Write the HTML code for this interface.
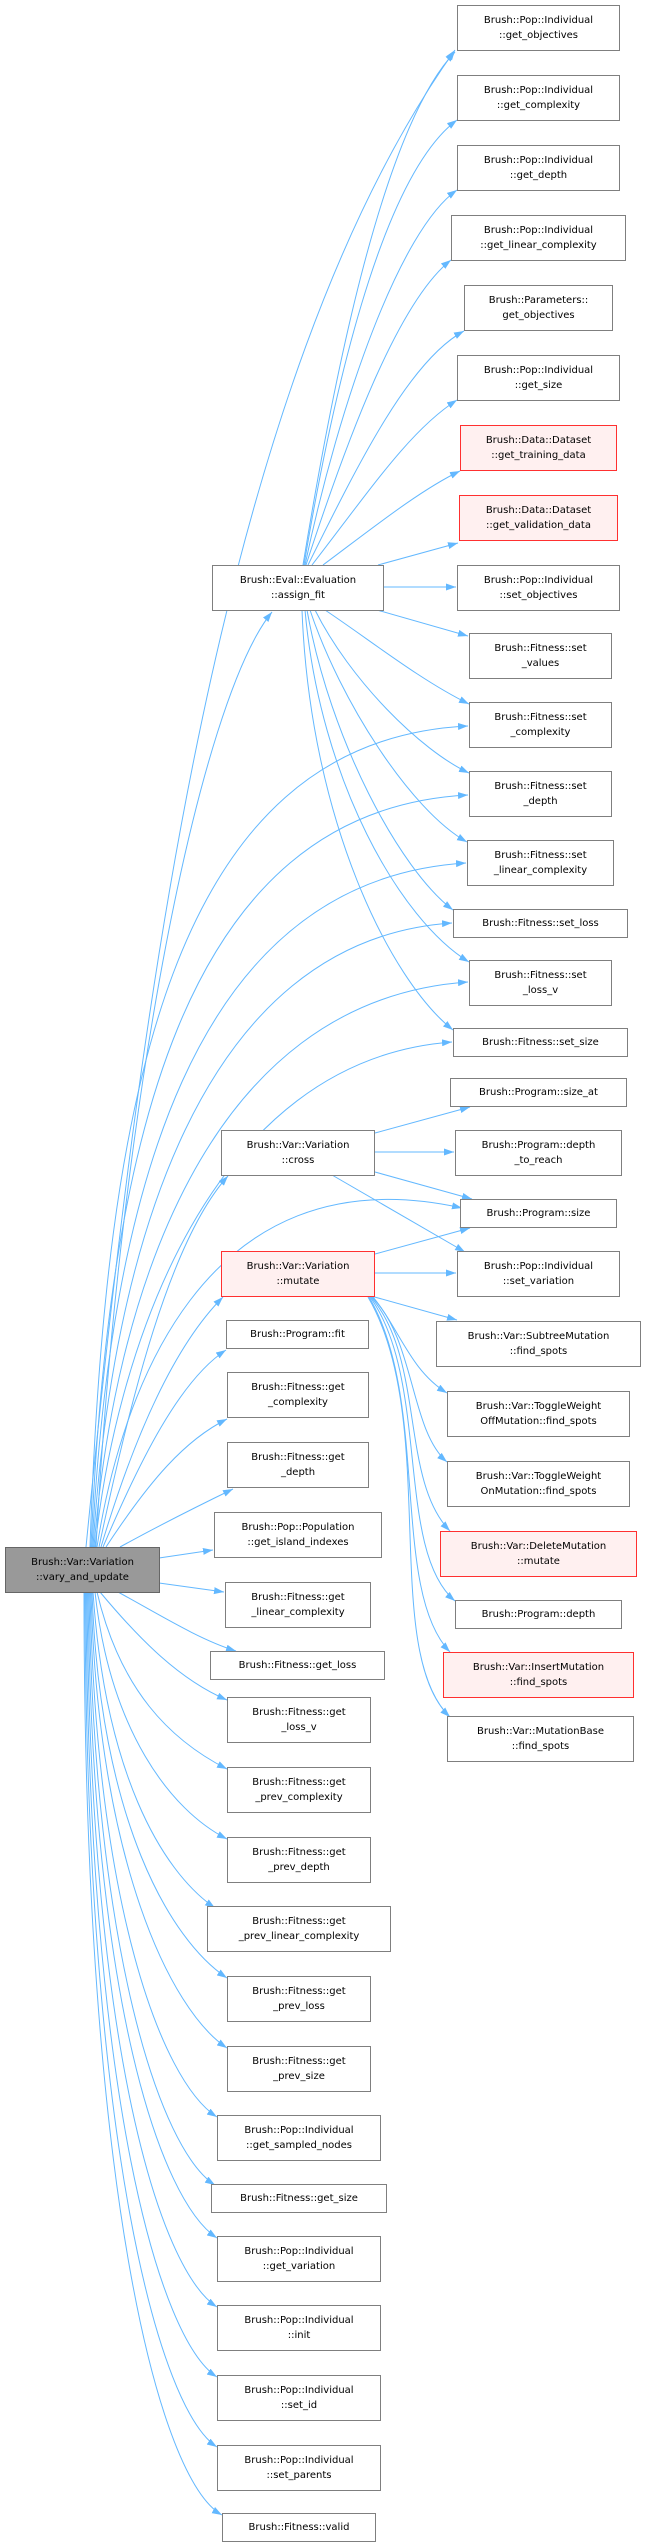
<!DOCTYPE html>
<html><head><meta charset="utf-8"><style>
html,body{margin:0;padding:0;background:#fff;}
body{width:645px;height:2543px;position:relative;overflow:hidden;font-family:"DejaVu Sans","Liberation Sans",sans-serif;font-size:10px;color:#000;}
.n{position:absolute;box-sizing:border-box;border:1px solid #7f7f7f;background:#fff;display:flex;align-items:center;justify-content:center;text-align:center;line-height:15px;white-space:nowrap;}
.r{border-color:#ff3030;background:#fff0f0;}
.g{background:#999;border-color:#666;}
svg{position:absolute;left:0;top:0;}
</style></head><body>
<svg width="645" height="2543" viewBox="0 0 645 2543">
<defs><marker id="a" markerUnits="userSpaceOnUse" markerWidth="11" markerHeight="8" refX="10" refY="3.5" orient="auto"><path d="M0,0 L10,3.5 L0,7 z" fill="#63b8ff"/></marker></defs>
<g fill="none" stroke="#63b8ff" stroke-width="1" marker-end="url(#a)">
<path d="M86,1547 C140,1000 220,380 455,50"/>
<path d="M96,1547 C120,1100 200,700 272,612"/>
<path d="M90,1547 C105,1100 170,740 468,726"/>
<path d="M91,1547 C108,1150 180,810 468,795"/>
<path d="M92,1547 C110,1200 190,880 466,863"/>
<path d="M93,1547 C112,1250 200,940 452,923"/>
<path d="M94,1547 C114,1300 205,1000 468,982"/>
<path d="M95,1547 C116,1350 210,1060 452,1042"/>
<path d="M97,1547 C120,1400 200,1150 462,1208"/>
<path d="M99,1547 C130,1400 170,1240 228,1176"/>
<path d="M101,1547 C130,1450 170,1350 223,1297"/>
<path d="M103,1547 C140,1460 180,1380 226,1350"/>
<path d="M106,1547 C150,1480 185,1440 227,1419"/>
<path d="M120,1547 C160,1525 200,1505 233,1489"/>
<path d="M159,1558 L213,1550"/>
<path d="M159,1583 L224,1592"/>
<path d="M118,1592 C160,1615 200,1640 236,1651"/>
<path d="M100,1592 C140,1640 180,1680 227,1700"/>
<path d="M97,1592 C120,1690 170,1740 227,1769"/>
<path d="M95,1592 C110,1730 170,1810 227,1839"/>
<path d="M93,1592 C105,1770 160,1870 215,1908"/>
<path d="M92,1592 C100,1820 170,1940 227,1978"/>
<path d="M91,1592 C98,1860 170,2010 227,2048"/>
<path d="M90,1592 C96,1900 160,2080 217,2117"/>
<path d="M89,1592 C94,1950 160,2150 215,2185"/>
<path d="M88,1592 C92,2000 160,2200 217,2238"/>
<path d="M87,1592 C90,2050 160,2270 217,2307"/>
<path d="M86,1592 C88,2100 160,2340 217,2377"/>
<path d="M85,1592 C86,2150 160,2410 217,2447"/>
<path d="M84,1592 C84,2200 160,2480 222,2515"/>
<path d="M303,565 C330,400 380,130 455,52"/>
<path d="M304,565 C340,350 390,170 457,120"/>
<path d="M305,565 C340,400 400,230 457,190"/>
<path d="M306,565 C350,430 400,300 451,260"/>
<path d="M308,565 C360,460 410,360 464,331"/>
<path d="M312,565 C370,490 410,430 457,400"/>
<path d="M323,565 C370,530 420,490 460,471"/>
<path d="M378,565 L458,543"/>
<path d="M383,587 L456,587"/>
<path d="M377,610 L468,636"/>
<path d="M325,610 C370,640 420,680 469,704"/>
<path d="M315,610 C350,680 420,750 469,773"/>
<path d="M310,610 C340,700 410,810 467,842"/>
<path d="M307,610 C330,740 400,870 453,910"/>
<path d="M305,610 C320,780 400,920 469,962"/>
<path d="M302,610 C310,820 390,980 453,1030"/>
<path d="M375,1133 L470,1107"/>
<path d="M375,1152 L454,1152"/>
<path d="M375,1172 L472,1199"/>
<path d="M332,1175 L465,1252"/>
<path d="M375,1254 L470,1228"/>
<path d="M375,1273 L456,1273"/>
<path d="M371,1296 L457,1320"/>
<path d="M373,1297 C400,1330 410,1370 447,1393"/>
<path d="M372,1297 C415,1340 410,1430 447,1462"/>
<path d="M371,1297 C425,1360 400,1480 450,1531"/>
<path d="M370,1297 C430,1380 395,1550 455,1601"/>
<path d="M369,1297 C430,1400 390,1590 450,1652"/>
<path d="M368,1297 C440,1420 380,1650 450,1717"/>
</g>
</svg>

<div class="n" style="left:457px;top:5px;width:163px;height:46px">Brush::Pop::Individual<br>::get_objectives</div>
<div class="n" style="left:457px;top:75px;width:163px;height:46px">Brush::Pop::Individual<br>::get_complexity</div>
<div class="n" style="left:457px;top:145px;width:163px;height:46px">Brush::Pop::Individual<br>::get_depth</div>
<div class="n" style="left:451px;top:215px;width:175px;height:46px">Brush::Pop::Individual<br>::get_linear_complexity</div>
<div class="n" style="left:464px;top:285px;width:149px;height:46px">Brush::Parameters::<br>get_objectives</div>
<div class="n" style="left:457px;top:355px;width:163px;height:46px">Brush::Pop::Individual<br>::get_size</div>
<div class="n r" style="left:460px;top:425px;width:157px;height:46px">Brush::Data::Dataset<br>::get_training_data</div>
<div class="n r" style="left:459px;top:495px;width:159px;height:46px">Brush::Data::Dataset<br>::get_validation_data</div>
<div class="n" style="left:457px;top:565px;width:163px;height:46px">Brush::Pop::Individual<br>::set_objectives</div>
<div class="n" style="left:469px;top:633px;width:143px;height:46px">Brush::Fitness::set<br>_values</div>
<div class="n" style="left:469px;top:702px;width:143px;height:46px">Brush::Fitness::set<br>_complexity</div>
<div class="n" style="left:469px;top:771px;width:143px;height:46px">Brush::Fitness::set<br>_depth</div>
<div class="n" style="left:467px;top:840px;width:147px;height:46px">Brush::Fitness::set<br>_linear_complexity</div>
<div class="n" style="left:453px;top:909px;width:175px;height:29px">Brush::Fitness::set_loss</div>
<div class="n" style="left:469px;top:960px;width:143px;height:46px">Brush::Fitness::set<br>_loss_v</div>
<div class="n" style="left:453px;top:1028px;width:175px;height:29px">Brush::Fitness::set_size</div>
<div class="n" style="left:450px;top:1078px;width:177px;height:29px">Brush::Program::size_at</div>
<div class="n" style="left:455px;top:1130px;width:167px;height:46px">Brush::Program::depth<br>_to_reach</div>
<div class="n" style="left:460px;top:1199px;width:157px;height:29px">Brush::Program::size</div>
<div class="n" style="left:457px;top:1251px;width:163px;height:46px">Brush::Pop::Individual<br>::set_variation</div>
<div class="n" style="left:436px;top:1321px;width:205px;height:46px">Brush::Var::SubtreeMutation<br>::find_spots</div>
<div class="n" style="left:447px;top:1391px;width:183px;height:46px">Brush::Var::ToggleWeight<br>OffMutation::find_spots</div>
<div class="n" style="left:447px;top:1461px;width:183px;height:46px">Brush::Var::ToggleWeight<br>OnMutation::find_spots</div>
<div class="n r" style="left:440px;top:1531px;width:197px;height:46px">Brush::Var::DeleteMutation<br>::mutate</div>
<div class="n" style="left:455px;top:1600px;width:167px;height:29px">Brush::Program::depth</div>
<div class="n r" style="left:443px;top:1652px;width:191px;height:46px">Brush::Var::InsertMutation<br>::find_spots</div>
<div class="n" style="left:447px;top:1716px;width:187px;height:46px">Brush::Var::MutationBase<br>::find_spots</div>

<div class="n" style="left:212px;top:565px;width:172px;height:46px">Brush::Eval::Evaluation<br>::assign_fit</div>
<div class="n" style="left:221px;top:1130px;width:154px;height:46px">Brush::Var::Variation<br>::cross</div>
<div class="n r" style="left:221px;top:1251px;width:154px;height:46px">Brush::Var::Variation<br>::mutate</div>
<div class="n" style="left:226px;top:1320px;width:143px;height:29px">Brush::Program::fit</div>
<div class="n" style="left:227px;top:1372px;width:142px;height:46px">Brush::Fitness::get<br>_complexity</div>
<div class="n" style="left:227px;top:1442px;width:142px;height:46px">Brush::Fitness::get<br>_depth</div>
<div class="n" style="left:214px;top:1512px;width:168px;height:46px">Brush::Pop::Population<br>::get_island_indexes</div>
<div class="n" style="left:225px;top:1582px;width:146px;height:46px">Brush::Fitness::get<br>_linear_complexity</div>
<div class="n" style="left:210px;top:1651px;width:175px;height:29px">Brush::Fitness::get_loss</div>
<div class="n" style="left:227px;top:1697px;width:144px;height:46px">Brush::Fitness::get<br>_loss_v</div>
<div class="n" style="left:227px;top:1767px;width:144px;height:46px">Brush::Fitness::get<br>_prev_complexity</div>
<div class="n" style="left:227px;top:1837px;width:144px;height:46px">Brush::Fitness::get<br>_prev_depth</div>
<div class="n" style="left:207px;top:1906px;width:184px;height:46px">Brush::Fitness::get<br>_prev_linear_complexity</div>
<div class="n" style="left:227px;top:1976px;width:144px;height:46px">Brush::Fitness::get<br>_prev_loss</div>
<div class="n" style="left:227px;top:2046px;width:144px;height:46px">Brush::Fitness::get<br>_prev_size</div>
<div class="n" style="left:217px;top:2115px;width:164px;height:46px">Brush::Pop::Individual<br>::get_sampled_nodes</div>
<div class="n" style="left:211px;top:2184px;width:176px;height:29px">Brush::Fitness::get_size</div>
<div class="n" style="left:217px;top:2236px;width:164px;height:46px">Brush::Pop::Individual<br>::get_variation</div>
<div class="n" style="left:217px;top:2305px;width:164px;height:46px">Brush::Pop::Individual<br>::init</div>
<div class="n" style="left:217px;top:2375px;width:164px;height:46px">Brush::Pop::Individual<br>::set_id</div>
<div class="n" style="left:217px;top:2445px;width:164px;height:46px">Brush::Pop::Individual<br>::set_parents</div>
<div class="n" style="left:222px;top:2513px;width:154px;height:29px">Brush::Fitness::valid</div>

<div class="n g" style="left:5px;top:1547px;width:155px;height:46px">Brush::Var::Variation<br>::vary_and_update</div>
</body></html>
